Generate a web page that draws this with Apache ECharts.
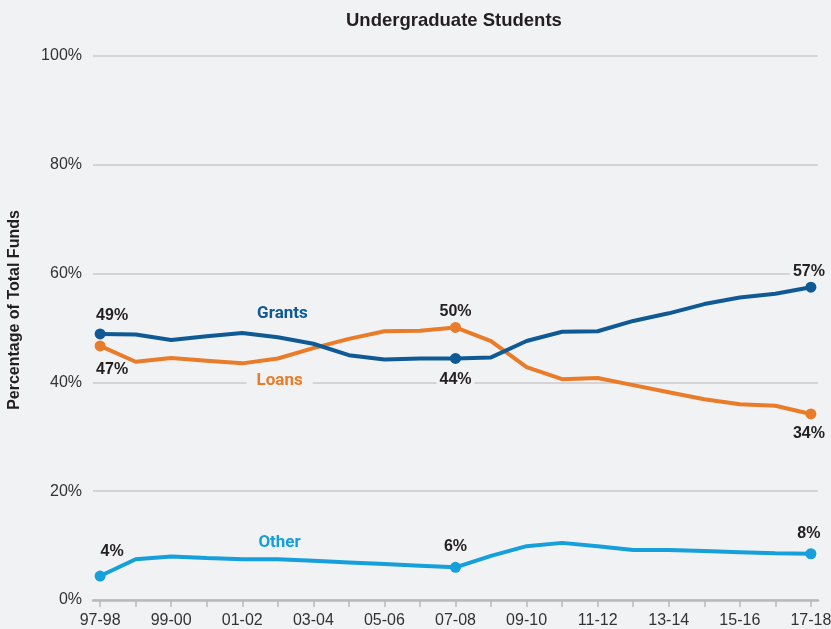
<!DOCTYPE html>
<html>
<head>
<meta charset="utf-8">
<script src="https://cdn.jsdelivr.net/npm/echarts@6/dist/echarts.min.js"></script>
<style>
html,body{margin:0;padding:0;background:#f1f2f4;}
#c{width:831px;height:629px;}
</style>
</head>
<body>
<div id="c"></div>
<script>
const categories = ['97-98','98-99','99-00','00-01','01-02','02-03','03-04','04-05','05-06','06-07','07-08','08-09','09-10','10-11','11-12','12-13','13-14','14-15','15-16','16-17','17-18'];
const grants = [48.9,48.8,47.8,48.5,49.1,48.3,47.1,45.0,44.2,44.4,44.4,44.6,47.6,49.3,49.4,51.3,52.7,54.4,55.6,56.3,57.5];
const loans  = [46.7,43.8,44.5,44.0,43.5,44.4,46.3,48.0,49.4,49.5,50.1,47.6,42.8,40.6,40.8,39.5,38.2,36.9,36.0,35.7,34.2];
const other  = [4.4,7.5,8.0,7.7,7.5,7.5,7.2,6.9,6.6,6.3,6.0,8.1,9.9,10.5,9.9,9.2,9.2,9.0,8.8,8.6,8.5];
const markedIdx = [0,10,20];
const grantsCallouts = ['49%','44%','57%'];
const loansCallouts = ['47%','50%','34%'];
const otherCallouts = ['4%','6%','8%'];

const BG = '#f1f2f4';
const C_GRANTS = '#0f5a95';
const C_LOANS = '#ea7b28';
const C_OTHER = '#159fdb';
const TXT = '#231f20';

function build(values, callouts, offsets) {
  return values.map((v, i) => {
    const k = markedIdx.indexOf(i);
    const item = { value: [i, v] };
    if (k >= 0) {
      item.symbol = 'circle';
      item.symbolSize = 11;
      item.label = {
        show: true, position: 'inside', formatter: callouts[k], offset: offsets[k],
        color: TXT, fontSize: 16, fontWeight: 'bold', fontFamily: 'Liberation Sans, Arial, sans-serif',
        backgroundColor: BG, padding: [0, 3]
      };
    } else {
      item.symbol = 'none';
    }
    return item;
  });
}

function nameMark(name, coord, color, bg) {
  return {
    symbol: 'rect', symbolSize: 1, itemStyle: { color: 'rgba(0,0,0,0)' },
    data: [{ coord: coord, value: name }],
    label: {
      show: true, position: 'inside', formatter: name, color: color,
      fontSize: 17, fontWeight: 'bold', fontFamily: 'Roboto, Liberation Sans, sans-serif',
      backgroundColor: bg || 'transparent', padding: bg ? [0, 10] : 0
    }
  };
}

const chart = echarts.init(document.getElementById('c'), null, { renderer: 'canvas' });
chart.setOption({
  animation: false,
  backgroundColor: BG,
  title: {
    text: 'Undergraduate Students', left: 346, top: 11, padding: 0,
    textStyle: { color: TXT, fontSize: 18.5, fontWeight: 'bold', fontFamily: 'Liberation Sans, Arial, sans-serif' }
  },
  grid: { left: 93, right: 13, top: 56, bottom: 29, containLabel: false, outerBoundsMode: 'none' },
  xAxis: {
    type: 'value', min: -0.2, max: 20.2,
    splitLine: { show: false },
    axisLine: { show: true, lineStyle: { color: '#b9b9bb', width: 2.5 } },
    axisTick: { show: true, customValues: categories.map((c, i) => i), length: 7, lineStyle: { color: '#b9b9bb', width: 1.5 } },
    axisLabel: {
      customValues: categories.map((c, i) => i).filter(i => i % 2 === 0),
      formatter: v => categories[Math.round(v)] || '',
      color: '#333', fontSize: 16, margin: 13, fontFamily: 'Liberation Sans, Arial, sans-serif'
    }
  },
  yAxis: {
    type: 'value', min: 0, max: 100, interval: 20,
    axisLine: { show: false }, axisTick: { show: false },
    splitLine: { show: true, lineStyle: { color: '#cacacc', width: 1.5 } },
    axisLabel: { formatter: '{value}%', color: '#333', fontSize: 16, margin: 11, fontFamily: 'Liberation Sans, Arial, sans-serif' },
    name: 'Percentage of Total Funds', nameLocation: 'middle', nameGap: 70,
    nameTextStyle: { color: TXT, fontSize: 16, fontWeight: 'bold', fontFamily: 'Liberation Sans, Arial, sans-serif', padding: [0, 0, 0, 36] }
  },
  series: [
    {
      type: 'line', name: 'Loans', data: build(loans, loansCallouts, [[12, 24], [0, -16], [-2, 20]]),
      lineStyle: { color: C_LOANS, width: 4 }, itemStyle: { color: C_LOANS },
      markPoint: nameMark('Loans', [5.05, 40.3], C_LOANS, BG), z: 2
    },
    {
      type: 'line', name: 'Grants', data: build(grants, grantsCallouts, [[12, -18], [0, 21], [-2, -16]]),
      lineStyle: { color: C_GRANTS, width: 4 }, itemStyle: { color: C_GRANTS },
      markPoint: nameMark('Grants', [5.13, 52.6], C_GRANTS), z: 3
    },
    {
      type: 'line', name: 'Other', data: build(other, otherCallouts, [[12, -24], [0, -21], [-2, -20]]),
      lineStyle: { color: C_OTHER, width: 4 }, itemStyle: { color: C_OTHER },
      markPoint: nameMark('Other', [5.05, 10.5], C_OTHER), z: 2
    }
  ]
});
</script>
</body>
</html>
